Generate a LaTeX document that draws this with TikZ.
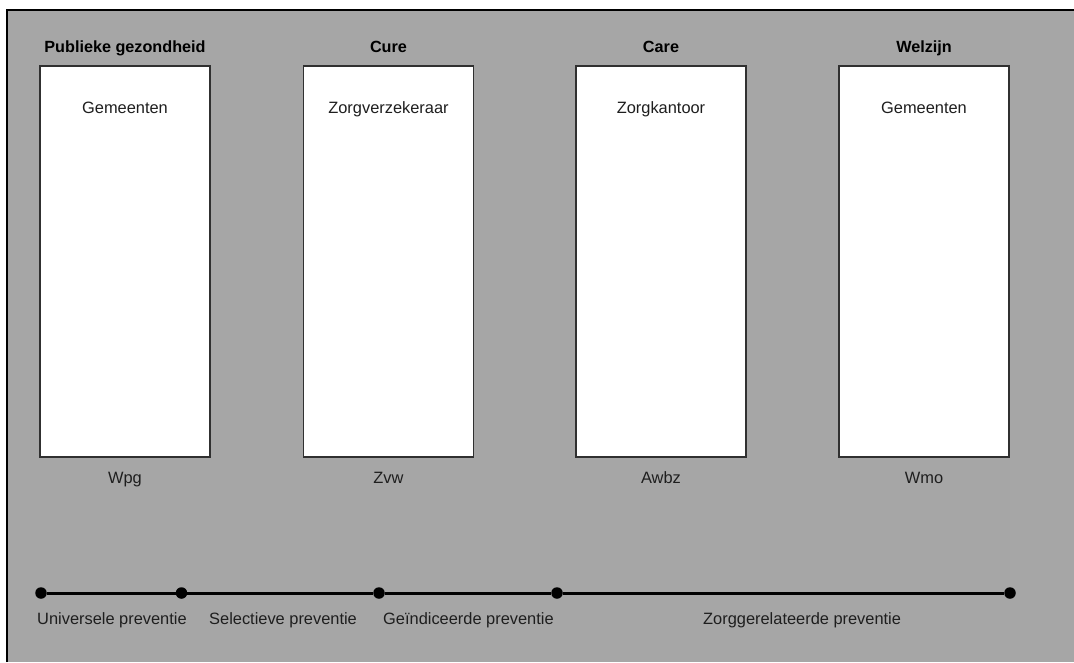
\documentclass[tikz,border=0pt]{standalone}
\usepackage{fontspec}
\setmainfont{Liberation Sans}
\usetikzlibrary{positioning}
\definecolor{vlakgrijs}{HTML}{A6A6A6}
\definecolor{tekstdonker}{HTML}{1E1E1E}
\definecolor{randdonker}{HTML}{303030}

\begin{document}
\begin{tikzpicture}[
    x=1pt, y=-1pt,
    kolom/.style={draw=randdonker, line width=1.3pt, fill=white, inner sep=0pt,
        minimum width=170pt, minimum height=391pt},
    kop/.style={anchor=base, inner sep=0pt, font=\fontsize{16.2}{18}\selectfont\bfseries, text=black},
    label/.style={anchor=base, inner sep=0pt, font=\fontsize{16.4}{18}\selectfont, text=tekstdonker},
    fase/.style={anchor=base west, inner sep=0pt, font=\fontsize{16.4}{18}\selectfont, text=tekstdonker},
    punt/.style={circle, fill=black, inner sep=0pt, minimum size=11.5pt}
]

% 1. Canvas and frame
\useasboundingbox (0,0) rectangle (1074,662);
\fill[vlakgrijs] (7,10) rectangle (1074,662);
\draw[line width=2pt] (7,662) -- (7,10) -- (1074,10);

% 2. Columns (domain, financier, law)
\pgfmathsetmacro{\boxTop}{66}
\pgfmathsetmacro{\boxMid}{261.5}
\foreach \naam/\xc/\titel/\partij/\wet in {
    pg/125/Publieke gezondheid/Gemeenten/Wpg,
    cure/388.5/Cure/Zorgverzekeraar/Zvw,
    care/661/Care/Zorgkantoor/Awbz,
    welzijn/924/Welzijn/Gemeenten/Wmo} {
    \node[kolom] (\naam) at (\xc,\boxMid) {};
    \node[kop] (\naam-kop) at (\xc,52) {\titel};
    \node[label] (\naam-partij) at (\xc,113) {\partij};
    \node[label] (\naam-wet) at (\xc,483) {\wet};
}

% 3. Prevention timeline
\pgfmathsetmacro{\lijnY}{593}
\node[punt] (p1) at (41,\lijnY) {};
\node[punt] (p2) at (181.5,\lijnY) {};
\node[punt] (p3) at (379,\lijnY) {};
\node[punt] (p4) at (557,\lijnY) {};
\node[punt] (p5) at (1010,\lijnY) {};
\draw[line width=3pt] (p1) -- (p2) -- (p3) -- (p4) -- (p5);

% 4. Prevention labels
\node[fase] (univ) at (37,624) {Universele preventie};
\node[fase] (sel) at (209,624) {Selectieve preventie};
\node[fase] (geind) at (383,624) {Geïndiceerde preventie};
\node[fase] (zorg) at (703,624) {Zorggerelateerde preventie};

\end{tikzpicture}
\end{document}
